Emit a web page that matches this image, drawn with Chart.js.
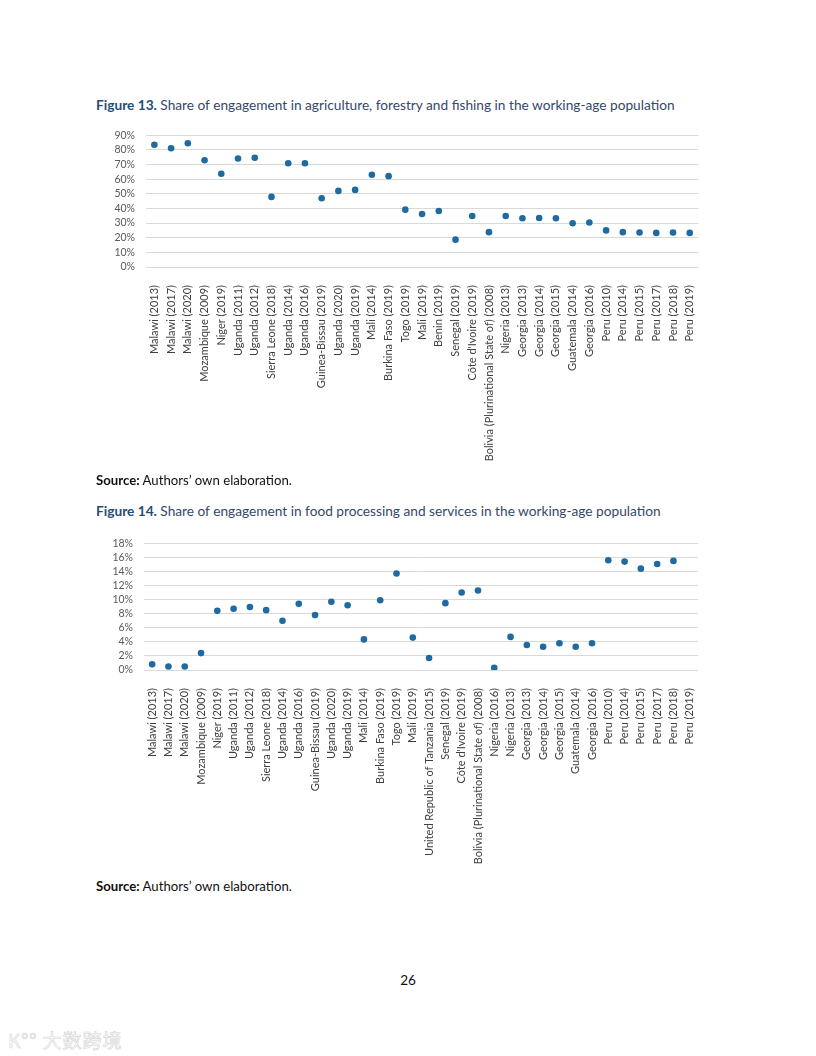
<!DOCTYPE html>
<html><head><meta charset="utf-8">
<script src="https://cdn.jsdelivr.net/npm/chart.js@4"></script>
<style>
html,body{margin:0;padding:0;background:#fff;}
body{width:816px;height:1056px;position:relative;overflow:hidden;font-family:Lato,"Open Sans",sans-serif;}
.t{position:absolute;left:96px;font-size:13.7px;color:#34486a;white-space:nowrap;}
.t b{color:#1f4e79;font-weight:700;}
.s{position:absolute;left:96px;font-size:13.2px;color:#111;white-space:nowrap;}
.c{position:absolute;left:100px;width:613px;}
.pg{position:absolute;left:0;width:816px;text-align:center;top:972px;font-size:13.5px;color:#111;}
.wm{position:absolute;left:8px;top:1026px;font-family:"Noto Sans CJK SC";font-size:19px;color:#fff;-webkit-text-stroke:0.6px #d4d4d4;letter-spacing:1px;}
</style></head>
<body>
<div class="t" style="top:96px"><b>Figure 13.</b> Share of engagement in agriculture, forestry and fishing in the working-age population</div>
<div class="c" style="top:118px;height:357px"><canvas id="c1"></canvas></div>
<div class="s" style="top:472px"><b>Source:</b> Authors’ own elaboration.</div>
<div class="t" style="top:502px"><b>Figure 14.</b> Share of engagement in food processing and services in the working-age population</div>
<div class="c" style="top:526px;height:339px"><canvas id="c2"></canvas></div>
<div class="s" style="top:878px"><b>Source:</b> Authors’ own elaboration.</div>
<div class="pg">26</div>
<div class="wm">K°° 大数跨境</div>
<script>
const categories13 = ["Malawi (2013)","Malawi (2017)","Malawi (2020)","Mozambique (2009)","Niger (2019)","Uganda (2011)","Uganda (2012)","Sierra Leone (2018)","Uganda (2014)","Uganda (2016)","Guinea-Bissau (2019)","Uganda (2020)","Uganda (2019)","Mali (2014)","Burkina Faso (2019)","Togo (2019)","Mali (2019)","Benin (2019)","Senegal (2019)","Côte d'Ivoire (2019)","Bolivia (Plurinational State of) (2008)","Nigeria (2013)","Georgia (2013)","Georgia (2014)","Georgia (2015)","Guatemala (2014)","Georgia (2016)","Peru (2010)","Peru (2014)","Peru (2015)","Peru (2017)","Peru (2018)","Peru (2019)"];
const values13 = [83.5,81.2,84.6,72.9,63.7,74.1,74.7,47.9,70.9,70.9,47.0,52.0,52.7,63.0,62.1,39.2,36.2,38.3,18.7,34.9,23.8,34.9,33.3,33.5,33.3,29.9,30.4,25.0,23.8,23.6,23.3,23.6,23.3];
const ticks13 = [0,10,20,30,40,50,60,70,80,90];

const categories14 = ["Malawi (2013)","Malawi (2017)","Malawi (2020)","Mozambique (2009)","Niger (2019)","Uganda (2011)","Uganda (2012)","Sierra Leone (2018)","Uganda (2014)","Uganda (2016)","Guinea-Bissau (2019)","Uganda (2020)","Uganda (2019)","Mali (2014)","Burkina Faso (2019)","Togo (2019)","Mali (2019)","United Republic of Tanzania (2015)","Senegal (2019)","Côte d'Ivoire (2019)","Bolivia (Plurinational State of) (2008)","Nigeria (2016)","Nigeria (2013)","Georgia (2013)","Georgia (2014)","Georgia (2015)","Guatemala (2014)","Georgia (2016)","Peru (2010)","Peru (2014)","Peru (2015)","Peru (2017)","Peru (2018)","Peru (2019)"];
const values14 = [0.8,0.5,0.5,2.4,8.4,8.7,8.95,8.5,7.0,9.4,7.8,9.7,9.2,4.35,9.9,13.7,4.6,1.7,9.5,11.0,11.3,0.3,4.7,3.55,3.3,3.8,3.3,3.8,15.6,15.4,14.4,15.05,15.5,null];
const ticks14 = [0,2,4,6,8,10,12,14,16,18];

const POINT = '#1f6aa0';
function make(id, cats, vals, tks, yW, xH, padTop){
  new Chart(document.getElementById(id), {
    type:'line',
    data:{labels:cats, datasets:[{data:vals, showLine:false, pointRadius:3.3, pointHoverRadius:3.3,
      pointBackgroundColor:POINT, pointBorderColor:POINT, pointBorderWidth:0}]},
    options:{
      responsive:true, maintainAspectRatio:false, animation:false,
      layout:{padding:{top:padTop,right:4,left:0,bottom:0}},
      plugins:{legend:{display:false}, tooltip:{enabled:false}},
      scales:{
        x:{offset:true, grid:{display:false}, border:{display:false},
           ticks:{autoSkip:false, minRotation:90, maxRotation:90, padding:10, color:'#404040',
                  font:{family:'Lato', size:11}},
           afterFit:(s)=>{s.height=xH;}},
        y:{min:tks[0], max:tks[tks.length-1], border:{display:false},
           afterBuildTicks:(s)=>{s.ticks=tks.map(v=>({value:v}));},
           grid:{color:'#d9d9d9', lineWidth:1, drawTicks:false, tickLength:0},
           ticks:{autoSkip:false, padding:11, color:'#595959', font:{family:'Lato', size:10.5}, callback:(v)=>v+'%'},
           afterFit:(s)=>{s.width=yW;}}
      }
    }
  });
}
make('c1', categories13, values13, ticks13, 46, 208, 9);
make('c2', categories14, values14, ticks14, 44, 195, 7);
</script>
</body></html>
